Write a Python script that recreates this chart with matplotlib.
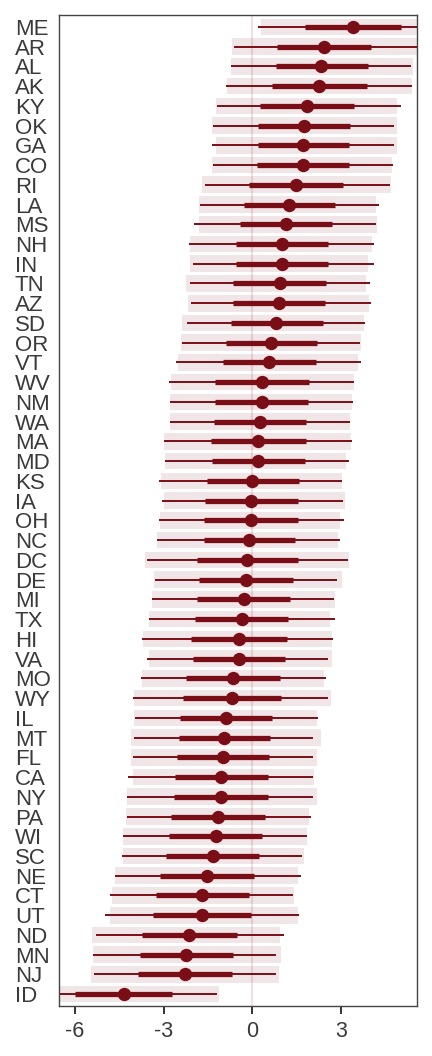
import matplotlib
matplotlib.use("Agg")
import matplotlib.pyplot as plt
import numpy as np

states = ["ME","AR","AL","AK","KY","OK","GA","CO","RI","LA","MS","NH","IN","TN","AZ","SD",
          "OR","VT","WV","NM","WA","MA","MD","KS","IA","OH","NC","DC","DE","MI","TX","HI",
          "VA","MO","WY","IL","MT","FL","CA","NY","PA","WI","SC","NE","CT","UT","ND","MN","NJ","ID"]

point = [3.39,2.42,2.33,2.27,1.84,1.74,1.71,1.70,1.47,1.23,1.13,1.00,1.00,0.92,0.89,0.80,
         0.64,0.56,0.32,0.32,0.26,0.19,0.18,0.00,-0.03,-0.06,-0.10,-0.18,-0.23,-0.29,-0.36,-0.46,
         -0.46,-0.67,-0.70,-0.90,-0.96,-0.98,-1.05,-1.07,-1.16,-1.23,-1.34,-1.52,-1.69,-1.69,-2.13,-2.23,-2.27,-4.35]

inner_lo = [1.78,0.85,0.79,0.67,0.26,0.18,0.18,0.16,-0.12,-0.29,-0.42,-0.56,-0.56,-0.64,-0.65,-0.72,
            -0.89,-1.00,-1.25,-1.25,-1.30,-1.40,-1.36,-1.54,-1.60,-1.62,-1.63,-1.88,-1.80,-1.87,-1.94,-2.07,
            -2.01,-2.25,-2.36,-2.46,-2.49,-2.54,-2.63,-2.65,-2.75,-2.82,-2.92,-3.11,-3.26,-3.36,-3.74,-3.80,-3.86,-5.99]
inner_hi = [5.03,4.01,3.91,3.89,3.43,3.30,3.28,3.27,3.07,2.78,2.69,2.57,2.55,2.48,2.45,2.38,
            2.18,2.14,1.91,1.89,1.80,1.82,1.77,1.57,1.53,1.53,1.45,1.56,1.39,1.27,1.21,1.17,
            1.09,0.94,0.97,0.68,0.59,0.56,0.52,0.52,0.43,0.34,0.21,0.07,-0.12,-0.05,-0.51,-0.67,-0.70,-2.73]

outer_lo = [0.20,-0.61,-0.72,-0.90,-1.20,-1.32,-1.35,-1.34,-1.60,-1.77,-1.96,-2.14,-2.01,-2.10,-2.09,-2.20,
            -2.39,-2.59,-2.81,-2.77,-2.77,-2.99,-2.95,-3.15,-3.04,-3.16,-3.22,-3.57,-3.30,-3.39,-3.50,-3.73,
            -3.56,-3.75,-4.05,-3.98,-3.99,-4.04,-4.21,-4.23,-4.23,-4.36,-4.40,-4.63,-4.80,-4.97,-5.30,-5.40,-5.37,-7.50]
outer_hi = [6.50,5.80,5.37,5.40,5.02,4.78,4.79,4.76,4.66,4.27,4.18,4.12,4.10,3.98,4.01,3.80,
            3.64,3.66,3.43,3.42,3.30,3.37,3.27,3.02,3.08,3.11,2.95,3.24,2.86,2.76,2.78,2.73,
            2.55,2.48,2.55,2.21,2.06,2.04,2.06,2.06,1.97,1.86,1.69,1.65,1.39,1.57,1.08,0.80,0.79,-1.21]

band_lo = [0.29,-0.68,-0.72,-0.87,-1.23,-1.38,-1.22,-1.38,-1.69,-1.79,-1.82,-2.11,-2.10,-2.23,-2.18,-2.38,
           -2.41,-2.50,-2.75,-2.77,-2.77,-2.98,-2.94,-3.08,-2.99,-3.13,-3.22,-3.63,-3.31,-3.39,-3.48,-3.70,
           -3.49,-3.73,-4.01,-4.01,-4.10,-4.09,-4.05,-4.23,-4.26,-4.37,-4.36,-4.64,-4.75,-4.81,-5.43,-5.40,-5.45,-7.60]
band_hi = [6.50,5.90,5.42,5.39,4.90,4.89,4.90,4.74,4.69,4.17,4.23,4.05,3.90,3.86,3.93,3.77,
           3.66,3.56,3.43,3.36,3.30,3.34,3.17,3.03,3.12,2.97,2.91,3.28,3.02,2.78,2.63,2.69,
           2.68,2.42,2.66,2.18,2.31,2.18,2.09,2.19,1.92,1.86,1.76,1.53,1.41,1.53,0.94,0.96,0.91,-1.12]

xticks = [-6, -3, 0, 3]

plt.rcParams['font.family'] = ['Liberation Sans', 'DejaVu Sans']
dark = '#7A0E17'
txt = '#3A3A3A'

fig = plt.figure(figsize=(4.32, 10.56), dpi=100)
ax = fig.add_axes([0.1359, 0.0473, 0.9646 - 0.1359, 0.9858 - 0.0473])

n = len(states)
y = np.arange(n)[::-1]

lo_b = np.array(band_lo); hi_b = np.array(band_hi)
ax.barh(y, hi_b - lo_b, left=lo_b, height=0.84, color=dark, alpha=0.1, linewidth=0, zorder=1)
ax.axvline(0, color=dark, alpha=0.12, lw=1.6, zorder=1.5)
ax.hlines(y, outer_lo, outer_hi, color=dark, lw=1.4, zorder=2)
ax.hlines(y, inner_lo, inner_hi, color=dark, lw=3.8, zorder=3)
for l in ax.collections[-2:]:
    l.set_capstyle('butt')
ax.plot(point, y, 'o', color=dark, ms=9.6, mec='none', zorder=4)

ax.set_xlim(-6.55, 5.56)
ax.set_ylim(-0.6, n - 0.4)
ax.set_xticks(xticks)
ax.set_xticklabels([str(t) for t in xticks])
ax.set_yticks(y)
ax.set_yticklabels(states)
ax.tick_params(axis='x', length=5.5, width=1.4, color='#333333', labelsize=15.5, labelcolor=txt, pad=5)
ax.tick_params(axis='y', length=0, labelsize=16, labelcolor=txt, pad=31.5)
for lab in ax.get_yticklabels():
    lab.set_horizontalalignment('left')
for s in ax.spines.values():
    s.set_color('#444444')
    s.set_linewidth(1.0)

fig.savefig('out.png', dpi=100)
